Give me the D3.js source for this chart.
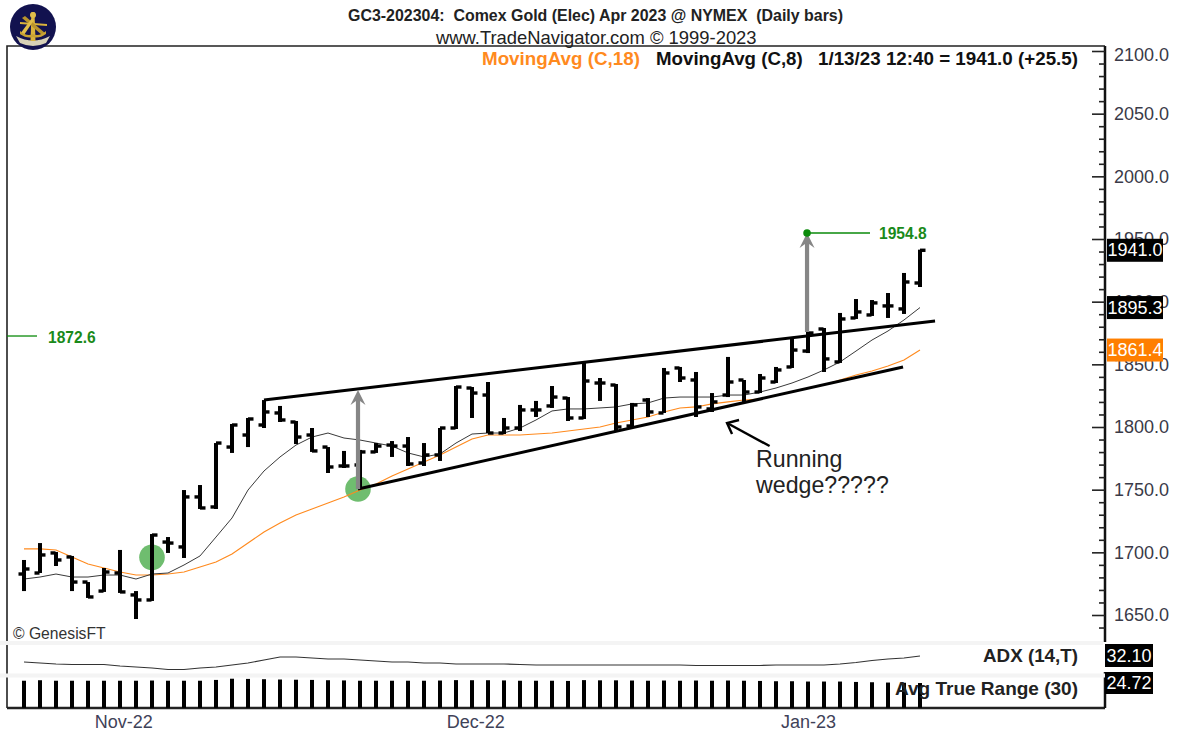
<!DOCTYPE html>
<html><head><meta charset="utf-8">
<style>html,body{margin:0;padding:0;background:#fff;overflow:hidden}svg{display:block}
text{font-family:"Liberation Sans",Arial,sans-serif}</style>
<script src="https://cdn.jsdelivr.net/npm/d3@7"></script></head><body>
<div id="c"></div>
<script>
const opens=[1682.7,1683.5,1699.5,1696.3,1676.3,1669.1,1683.5,1666,1662,1708.2,1704.3,1744.2,1736.2,1784,1793.6,1801.6,1811.2,1804,1793.6,1784,1768.9,1769.7,1780.1,1785.6,1784.8,1771.3,1777.7,1799.2,1831.1,1825.5,1795.2,1799.2,1813.6,1816.8,1823.1,1807.2,1835.1,1833.5,1800.8,1821.5,1811.2,1847.1,1837.5,1814.4,1825.5,1837.5,1827.9,1835.9,1847.9,1860.6,1878.2,1851.9,1887,1889.4,1896.6,1894.2,1914.9];
const highs=[1693.9,1707.4,1700.3,1697.1,1676.3,1687.5,1701.9,1669.1,1714.6,1712.2,1749.7,1753.7,1787.2,1802.4,1807.2,1821.5,1816.8,1804.8,1799.2,1784,1780.9,1781.7,1787.2,1788.8,1792,1787.2,1799.2,1832.7,1831.9,1835.9,1807.2,1817.6,1820.8,1832.7,1823.9,1851.9,1839.1,1834.3,1819.2,1823.1,1847.1,1847.9,1843.9,1827.1,1855.9,1837.5,1842.3,1847.9,1870.2,1875.8,1879,1891,1902.1,1901.3,1906.9,1922.9,1941.5];
const lows=[1669.1,1683.5,1689.1,1669.1,1663.6,1668.4,1667.6,1646.8,1661.2,1699.5,1695.5,1734.6,1734.6,1779.3,1784,1799.2,1804,1786.4,1780.1,1763.3,1767.3,1750.5,1779.3,1776.1,1768.9,1768.9,1772.9,1798.4,1807.2,1795.2,1794.4,1796.8,1808,1815.2,1804.8,1806.4,1820.8,1796.8,1799.2,1808,1811.2,1835.9,1808,1812,1823.9,1820,1827.1,1835.1,1847.1,1859,1843.9,1851.1,1886.2,1888.6,1887,1890.2,1911.7];
const closes=[1686.7,1697.9,1693.9,1676.3,1664.4,1684.3,1668.4,1662,1713.8,1707.4,1744.2,1735.4,1787.2,1801.6,1806.4,1812,1805.6,1792,1780.9,1768.1,1768.9,1780.1,1784.8,1784.8,1770.5,1777.7,1799.2,1831.9,1827.1,1795.2,1799.2,1813.6,1813.6,1823.9,1807.2,1836.7,1835.1,1800,1817.6,1812,1843.1,1839.1,1816,1820,1835.9,1827.9,1839.1,1845.5,1861.4,1875,1854.3,1886.2,1891.8,1899,1896.6,1915.7,1941];
const ma18=[1702.7,1702.7,1701.9,1696.3,1690.7,1687.5,1684.3,1681.9,1681.9,1682.7,1684.3,1688.3,1692.3,1698.7,1707.4,1716.2,1723.4,1729.8,1734.6,1739.4,1744.2,1749.7,1754.5,1760.9,1766.5,1772.1,1777.7,1784,1790.4,1793.6,1793.6,1793.6,1794.4,1795.2,1796.8,1798.4,1800,1803.2,1805.6,1808,1812,1815.2,1816,1818.4,1820,1821.5,1822.3,1825.5,1827.9,1831.1,1833.5,1837.5,1841.5,1844.7,1848.7,1853.5,1861.4];
const ma8=[1678.7,1680.3,1682.7,1680.3,1680.3,1681.9,1681.9,1678.7,1682.7,1683.5,1689.9,1697.1,1712.2,1727.4,1749.7,1764.9,1776.1,1785.6,1792,1795.2,1791.2,1789.6,1787.2,1784.8,1779.3,1776.1,1778.5,1787.2,1794.4,1795.2,1795.2,1799.2,1805.6,1812.8,1814.4,1814.4,1815.2,1816,1818.4,1819.2,1823.1,1823.9,1823.9,1823.9,1825.5,1825.5,1827.9,1831.1,1835.1,1839.9,1845.5,1851.9,1860.6,1869.4,1876.6,1885.4,1895.3];
const adx=[29.1,28.6,28.1,27.85,27.85,27.85,27.1,26.6,26.1,25.35,25.35,26.1,26.6,27.6,28.6,30.1,31.6,31.6,31.1,30.6,30.6,30.1,29.6,29.1,29.1,28.6,28.6,28.1,28.1,28.1,28.1,27.85,27.6,27.6,27.6,27.6,27.6,27.6,27.6,27.6,27.6,27.6,27.35,27.35,27.35,27.35,27.35,27.6,27.6,27.6,27.6,28.1,28.85,29.85,30.6,31.1,32.1];
const atr=[27,27.5,27,27,27,27,27,27,27.2,27,27,27,27.8,29,28.8,28.5,28.2,28,27.8,27.5,27.3,27,27,27,27,27,27.2,27.6,27.5,27.5,27.3,27,27,27,26.8,27.6,27.4,27.4,27.2,27,27.2,27,27.2,27,27.2,27,26.8,26.5,26.5,26.2,26.2,26.2,25.8,25.5,25.2,25,24.72];
const majorTicks=[1650,1700,1750,1800,1850,1900,1950,2000,2050,2100];
const minorTicks=d3.range(1640,2101,10).filter(v=>!majorTicks.includes(v));
const monthLabels=["Nov-22","Dec-22","Jan-23"];
const monthPos=[6.2,28.2,49];
const wedgeUpper=[[15,1821.5],[56.94,1884.6]];
const wedgeLower=[[20.875,1750.5],[54.94,1847.9]];
const targetArrows=[[[20.875,1750.5],[20.875,1829.5]],[[48.94,1875.8],[48.94,1954.8]]];
const noteArrow=[[46.6,1784.8],[43.94,1803.2]];
const greenDots=[[8,1696],[20.875,1750.5]];
const levelLeft=1872.6, levelRight=1954.8;

const W=1178,H=735;
const L=7,R=1105,T=46,B=708;
const x=d3.scaleLinear().domain([0,56]).range([24,920]);
const y=d3.scaleLinear().domain([1650,2100]).range([615,51]);
const yAdx=d3.scaleLinear().domain([32.1,23.1]).range([656,674]);
const yAtr=d3.scaleLinear().domain([0,30]).range([708,677.7]);
const svg=d3.select("#c").append("svg").attr("width",W).attr("height",H);
const idx=d3.range(opens.length);

// frame
const fr=svg.append("g").attr("fill","none").attr("stroke","#222");
fr.append("path").attr("d",`M${L},${B}V${T}H${R}`).attr("stroke-width",1.6);
fr.append("path").attr("d",`M${L},${B}H${R}`).attr("stroke-width",2.5);
fr.append("path").attr("d",`M${R},${T}V642M${R},672V${B}`).attr("stroke-width",2.5).attr("stroke","#111");
svg.append("rect").attr("x",0).attr("y",641).attr("width",R-2).attr("height",4).attr("fill","#f4f4f4");
svg.append("rect").attr("x",0).attr("y",673.5).attr("width",R).attr("height",4).attr("fill","#f4f4f4");

// price axis
const ax=svg.append("g").attr("transform",`translate(${R},0)`)
 .call(d3.axisRight(y).tickValues(majorTicks).tickSizeInner(-13).tickSizeOuter(0).tickPadding(9).tickFormat(d3.format(".1f")));
ax.select(".domain").remove();
ax.selectAll("line").attr("stroke","#222").attr("stroke-width",1.6);
ax.selectAll("text").attr("font-size",18).attr("fill","#3a3a48").attr("font-family",'"Liberation Sans"')
  .attr("dy",d=>d===2100?"0.55em":"0.33em");
const ax2=svg.append("g").attr("transform",`translate(${R},0)`)
 .call(d3.axisRight(y).tickValues(minorTicks).tickSizeInner(-6).tickSizeOuter(0).tickFormat(""));
ax2.select(".domain").remove();
ax2.selectAll("line").attr("stroke","#222").attr("stroke-width",1.6);

// x axis
const xa=svg.append("g").attr("transform",`translate(0,${B})`)
 .call(d3.axisBottom(x).tickValues(monthPos).tickSize(0).tickPadding(7).tickFormat((d,i)=>monthLabels[i]));
xa.select(".domain").remove();
xa.selectAll("text").attr("font-size",18).attr("fill","#3f4258").attr("font-family",'"Liberation Sans"');

// green circles
svg.selectAll(".dot").data(greenDots).join("circle").attr("cx",d=>x(d[0])).attr("cy",d=>y(d[1])).attr("r",12.8).attr("fill","#6fbd6f");

// MAs
const line=d3.line().x((d,i)=>x(i)).y(d=>y(d)).curve(d3.curveLinear);
svg.append("path").attr("d",line(ma18)).attr("fill","none").attr("stroke","#ff8a1e").attr("stroke-width",1.15);
svg.append("path").attr("d",line(ma8)).attr("fill","none").attr("stroke","#3a3a3a").attr("stroke-width",1);

// OHLC bars
const bars=svg.append("g").attr("fill","#000");
bars.selectAll(".v").data(idx).join("rect").attr("x",i=>x(i)-2).attr("width",4).attr("y",i=>y(highs[i])).attr("height",i=>y(lows[i])-y(highs[i]));
bars.selectAll(".o").data(idx).join("rect").attr("x",i=>x(i)-5.5).attr("width",5).attr("y",i=>y(opens[i])-1.7).attr("height",3.4);
bars.selectAll(".c").data(idx).join("rect").attr("x",i=>x(i)).attr("width",5.5).attr("y",i=>y(closes[i])-1.7).attr("height",3.4);

// ADX line
const ladx=d3.line().x((d,i)=>x(i)).y(d=>yAdx(d));
svg.append("path").attr("d",ladx(adx)).attr("fill","none").attr("stroke","#333").attr("stroke-width",1.2);
// ATR bars
svg.append("g").selectAll("rect").data(atr).join("rect").attr("x",(d,i)=>x(i)-2).attr("width",4).attr("y",d=>yAtr(d)).attr("height",d=>yAtr(0)-yAtr(d)).attr("fill","#000");

// wedge lines
const pl=d3.line().x(d=>x(d[0])).y(d=>y(d[1]));
[wedgeUpper,wedgeLower].forEach(w=>svg.append("path").attr("d",pl(w)).attr("fill","none").attr("stroke","#000").attr("stroke-width",3));

// arrows
targetArrows.forEach(a=>{
  const px=x(a[0][0]),y0=y(a[0][1]),y1=y(a[1][1]);
  svg.append("path").attr("d",`M${px},${y0}V${y1+8}`).attr("stroke","#868686").attr("stroke-width",4.2).attr("fill","none");
  svg.append("path").attr("d",`M${px},${y1}L${px+7.5},${y1+15}L${px+2},${y1+11}V${y1+13}H${px-2}V${y1+11}L${px-7.5},${y1+15}Z`).attr("fill","#868686");
});
{
 const [a,b]=noteArrow; const ax0=x(a[0]),ay0=y(a[1]),bx=x(b[0]),by=y(b[1]);
 svg.append("path").attr("d",`M${ax0},${ay0}L${bx},${by}`).attr("stroke","#000").attr("stroke-width",2.4).attr("fill","none");
 svg.append("path").attr("d",`M${bx+12},${by-3}L${bx},${by}L${bx+5},${by+11}`).attr("stroke","#000").attr("stroke-width",2.4).attr("fill","none");
}
// level markers
const G="#0a8a0a";
svg.append("path").attr("d",`M${L},${y(levelLeft)}H37`).attr("stroke",G).attr("stroke-width",1.3);
svg.append("path").attr("d",`M${x(48.94)},${y(levelRight)}H870`).attr("stroke",G).attr("stroke-width",1.3);
svg.append("circle").attr("cx",x(48.94)).attr("cy",y(levelRight)).attr("r",3.8).attr("fill",G);
function T_(s,px,py,size,o={}){return svg.append("text").text(s).attr("x",px).attr("y",py).attr("font-size",size).attr("font-weight",o.w||"normal").attr("fill",o.c||"#222").attr("text-anchor",o.a||"start").attr("dominant-baseline","central").attr("xml:space","preserve").style("white-space","pre");}
T_(d3.format(".1f")(levelLeft),48,337,15.6,{w:"bold",c:"#1a8a1a"});
T_(d3.format(".1f")(levelRight),879,233,15.6,{w:"bold",c:"#1a8a1a"});

// titles
T_("GC3-202304:  Comex Gold (Elec) Apr 2023 @ NYMEX  (Daily bars)",348,15,15.95,{w:"bold"});
T_("www.TradeNavigator.com © 1999-2023",436,37,18.4,{c:"#222"});
T_("MovingAvg (C,18)",482,58,18.8,{w:"bold",c:"#ff8a1e"});
T_("MovingAvg (C,8)",656,58,18.7,{w:"bold",c:"#111"});
T_("1/13/23 12:40 = 1941.0 (+25.5)",818,58,18.8,{w:"bold",c:"#111"});
T_("© GenesisFT",13,633,15.7,{c:"#333"});
T_("Running",756,459,23.2,{c:"#222"});
T_("wedge?????",756,485,23.2,{c:"#222"});
T_("ADX (14,T)",1078,655,18.8,{w:"bold",a:"end"});
T_("Avg True Range (30)",1078,688,19,{w:"bold",a:"end"});

// value boxes
function box(s,yc,bg,x0,x1,h){
 svg.append("rect").attr("x",x0).attr("y",yc-h/2).attr("width",x1-x0).attr("height",h).attr("fill",bg);
 svg.append("text").text(s).attr("x",(x0+x1)/2).attr("y",yc).attr("text-anchor","middle").attr("dominant-baseline","central").attr("font-size",18).attr("fill","#fff");
}
box(d3.format(".1f")(closes[56]),y(closes[56]),"#000",1107,1163,23);
box(d3.format(".1f")(ma8[56]),y(ma8[56]),"#000",1107,1163,23);
box(d3.format(".1f")(ma18[56]),y(ma18[56]),"#ff7f00",1107,1163,23);
box(d3.format(".2f")(adx[56]),655.5,"#000",1105,1153,23);
box(d3.format(".2f")(atr[56]),683,"#000",1105,1153,22);

// logo on top of frame
const lg=svg.append("g").attr("transform","translate(33,27)");
lg.append("circle").attr("r",23).attr("fill","#12124f");
lg.append("path").attr("d","M-17,9Q0,18 17,9L13,16Q0,22 -13,16Z").attr("fill","#d8d2b8");
lg.append("path").attr("d","M-1.5,-15L1.5,-15L2.5,14L-2.5,14Z").attr("fill","#d9b23c");
lg.append("path").attr("d","M-13,-5L14,-3L14,-1L-13,-3Z").attr("fill","#d9b23c");
lg.append("path").attr("d","M-11,-9L-8,-11L12,6L9,8Z").attr("fill","#b8932c");
lg.append("path").attr("d","M-13,7L-1,-9L1,-7L-9,8Z").attr("fill","#e0bd4a");
lg.append("path").attr("d","M-13,4Q-6,10 0,7Q6,10 13,4L13,7Q6,12 0,10Q-6,12 -13,7Z").attr("fill","#c9a233");
lg.append("circle").attr("cy",-12).attr("r",3).attr("fill","#e0bd4a");
</script></body></html>
